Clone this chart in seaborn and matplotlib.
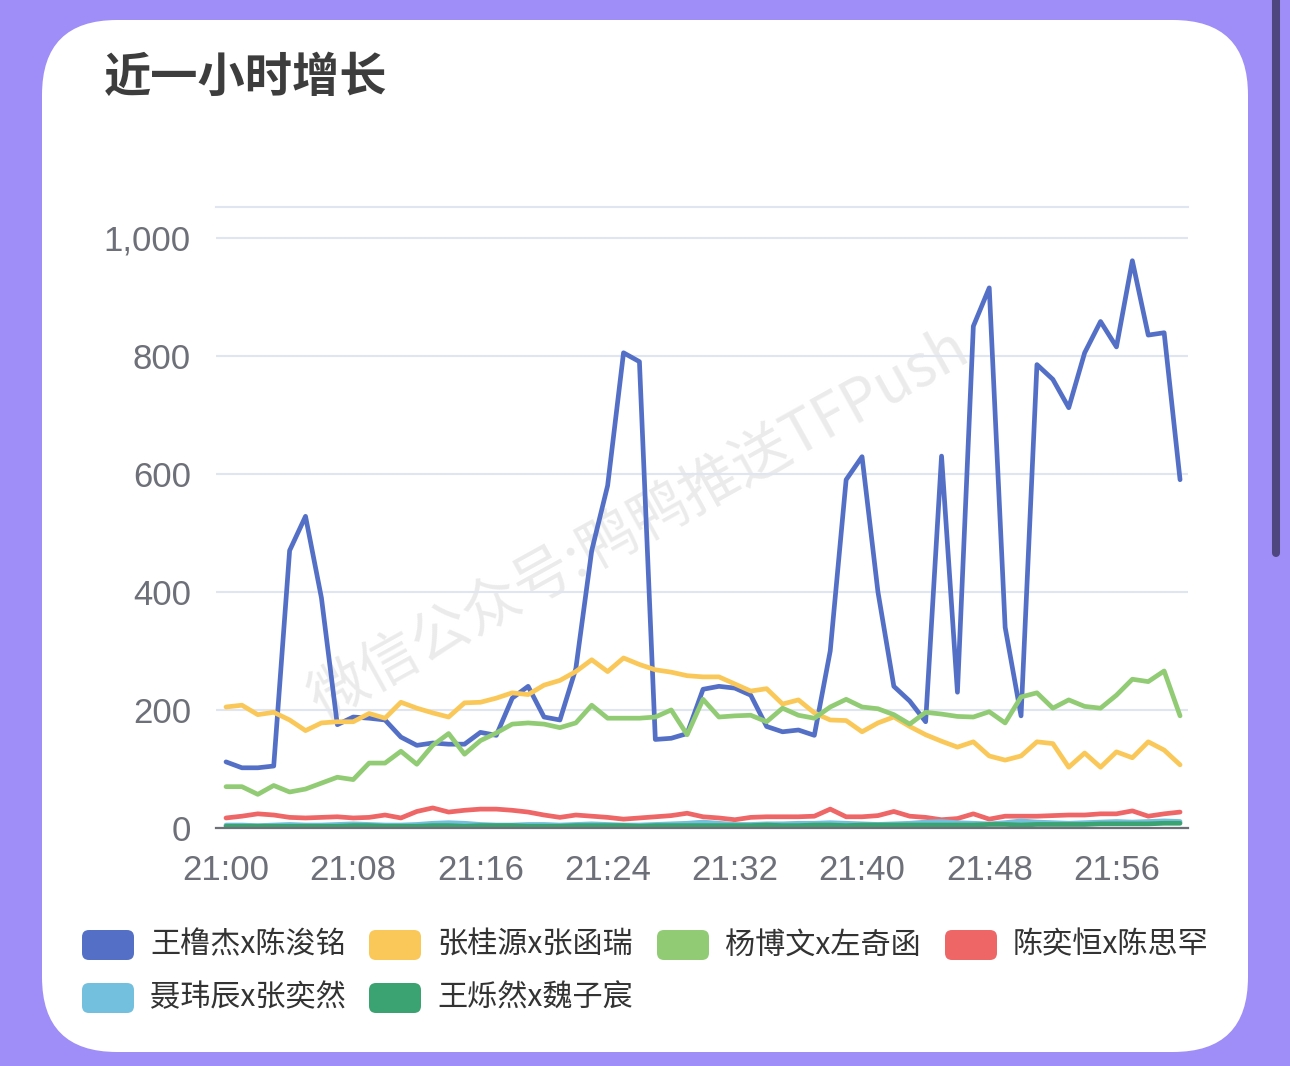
import numpy as np
import pandas as pd
import matplotlib
matplotlib.use('Agg')
import matplotlib.pyplot as plt
import seaborn as sns
from matplotlib.patches import FancyBboxPatch
from matplotlib.lines import Line2D

# 每分钟增长（21:00 - 22:00）
minutes = list(range(61))
tick_minutes = [0, 8, 16, 24, 32, 40, 48, 56]
tick_labels = ['21:00', '21:08', '21:16', '21:24', '21:32', '21:40', '21:48', '21:56']

names = ['王橹杰x陈浚铭', '张桂源x张函瑞', '杨博文x左奇函', '陈奕恒x陈思罕', '聂玮辰x张奕然', '王烁然x魏子宸']
colors = ['#5470c6', '#fac858', '#91cc75', '#ee6666', '#73c0de', '#3ba272']

wang_chen = [112, 102, 102, 105, 470, 528, 390, 175, 188, 186,
             183, 154, 140, 144, 142, 142, 162, 157, 220, 240,
             188, 183, 270, 470, 580, 805, 790, 150, 152, 160,
             235, 240, 237, 225, 172, 163, 166, 157, 300, 590,
             629, 400, 240, 215, 180, 630, 230, 850, 915, 340,
             190, 785, 760, 712, 805, 858, 815, 961, 835, 839, 590]
zhang_zhang = [205, 208, 192, 196, 183, 165, 178, 180, 180, 194,
               186, 213, 203, 195, 188, 212, 213, 220, 229, 226,
               242, 250, 265, 285, 265, 288, 277, 268, 264, 258,
               256, 256, 244, 232, 236, 210, 217, 195, 183, 182,
               163, 178, 188, 172, 158, 147, 137, 146, 122, 115,
               122, 146, 143, 103, 127, 103, 129, 119, 146, 132, 107]
yang_zuo = [70, 70, 57, 72, 61, 66, 76, 86, 82, 110,
            110, 130, 108, 140, 160, 125, 148, 161, 176, 178,
            176, 170, 178, 208, 186, 186, 186, 188, 200, 158,
            218, 188, 190, 191, 180, 203, 191, 186, 205, 218,
            205, 202, 192, 176, 196, 193, 189, 188, 197, 178,
            222, 229, 203, 217, 206, 203, 225, 252, 248, 266, 190]
chen_chen = [17, 20, 24, 22, 18, 17, 18, 19, 17, 18,
             22, 17, 28, 34, 27, 30, 32, 32, 30, 27,
             22, 18, 22, 20, 18, 15, 17, 19, 21, 25,
             19, 17, 14, 18, 19, 19, 19, 20, 32, 19,
             19, 21, 28, 20, 18, 14, 16, 24, 15, 20,
             20, 20, 21, 22, 22, 24, 24, 29, 20, 24, 27]
nie_zhang = [5, 5, 4, 5, 6, 5, 5, 6, 7, 6,
             5, 5, 6, 8, 9, 8, 6, 5, 5, 6,
             6, 5, 6, 7, 6, 5, 5, 6, 7, 8,
             10, 8, 6, 6, 7, 7, 8, 8, 9, 8,
             7, 6, 7, 8, 10, 11, 9, 8, 7, 9,
             12, 10, 9, 8, 9, 10, 11, 10, 11, 12, 11]
wang_wei = [3, 3, 3, 3, 3, 3, 3, 3, 4, 4,
            3, 3, 3, 4, 4, 3, 4, 4, 4, 3,
            3, 3, 4, 4, 4, 4, 3, 4, 4, 4,
            4, 4, 4, 4, 5, 4, 4, 5, 5, 4,
            5, 5, 5, 5, 5, 5, 5, 5, 6, 6,
            5, 6, 6, 6, 6, 7, 7, 7, 7, 8, 8]

series = [wang_chen, zhang_zhang, yang_zuo, chen_chen, nie_zhang, wang_wei]
df = pd.concat([pd.DataFrame({'minute': minutes, 'value': v, 'name': n})
                for n, v in zip(names, series)], ignore_index=True)

sns.set_style('white')
plt.rcParams['font.family'] = ['Noto Sans CJK SC', 'DejaVu Sans']

W, H = 12.9, 10.66
fig = plt.figure(figsize=(W, H), dpi=100)
fig.patch.set_facecolor('#9f8ef7')

# 白色圆角卡片
card = FancyBboxPatch((0.42, 0.14), 12.06, 10.32, boxstyle='round,pad=0,rounding_size=0.75',
                      transform=fig.dpi_scale_trans, facecolor='white', edgecolor='none', zorder=-2)
fig.patches.append(card)

# 右侧滚动条
fig.lines.append(Line2D([12.76, 12.76], [10.7, 5.13], transform=fig.dpi_scale_trans,
                        color='#4f4680', lw=5.8, solid_capstyle='round'))

fig.text(104 / 1290, 1 - 78 / 1066, '近一小时增长', fontsize=34, fontweight='bold',
         color='#3d3d3d', va='center', ha='left')

ax = fig.add_axes([216 / 1290, 1 - 828 / 1066, (1188 - 216) / 1290, (828 - 207) / 1066])
ax.set_facecolor('none')

sns.lineplot(data=df, x='minute', y='value', hue='name', palette=colors, hue_order=names,
             linewidth=3.4, legend=False, ax=ax, sort=False)
for ln in ax.lines:
    ln.set_solid_joinstyle('round')
    ln.set_solid_capstyle('round')

ax.set_xlim(-0.63, 60.5)
ax.set_ylim(0, 1052)
ax.set_yticks([0, 200, 400, 600, 800, 1000])
ax.set_yticklabels(['0', '200', '400', '600', '800', '1,000'])
ax.set_xticks(tick_minutes)
ax.set_xticklabels(tick_labels)
ax.set_xlabel('')
ax.set_ylabel('')
ax.grid(axis='y', color='#e0e6f1', lw=1.5)
ax.set_axisbelow(True)
for s in ['left', 'right']:
    ax.spines[s].set_visible(False)
ax.spines['top'].set_color('#e0e6f1')
ax.spines['top'].set_linewidth(1.5)
ax.spines['bottom'].set_color('#6e7079')
ax.spines['bottom'].set_linewidth(1.6)
ax.tick_params(axis='y', length=0, pad=18, labelsize=25, labelcolor='#6e7079')
ax.tick_params(axis='x', length=6, width=1.6, color='#6e7079', pad=13, labelsize=25, labelcolor='#6e7079')
for lab in ax.get_xticklabels() + ax.get_yticklabels():
    lab.set_family(['Liberation Sans', 'DejaVu Sans'])

# 水印
fig.text(640 / 1290, 1 - 525 / 1066, '微信公众号:鸭鸭推送TFPush', fontsize=42, color='#ebebeb',
         rotation=29, ha='center', va='center', zorder=-1)

# 图例
leg_x = [82, 369, 657, 945]
leg_y = [945, 998]
for i, (n, c) in enumerate(zip(names, colors)):
    px = leg_x[i % 4]
    py = leg_y[i // 4]
    patch = FancyBboxPatch((px / 100, (1066 - py - 15) / 100), 0.52, 0.30,
                           boxstyle='round,pad=0,rounding_size=0.07',
                           transform=fig.dpi_scale_trans, facecolor=c, edgecolor='none')
    fig.patches.append(patch)
    fig.text((px + 68) / 1290, 1 - py / 1066, n, fontsize=21.7, color='#333333',
             va='center', ha='left')

fig.savefig('out.png', dpi=100, facecolor=fig.get_facecolor())
